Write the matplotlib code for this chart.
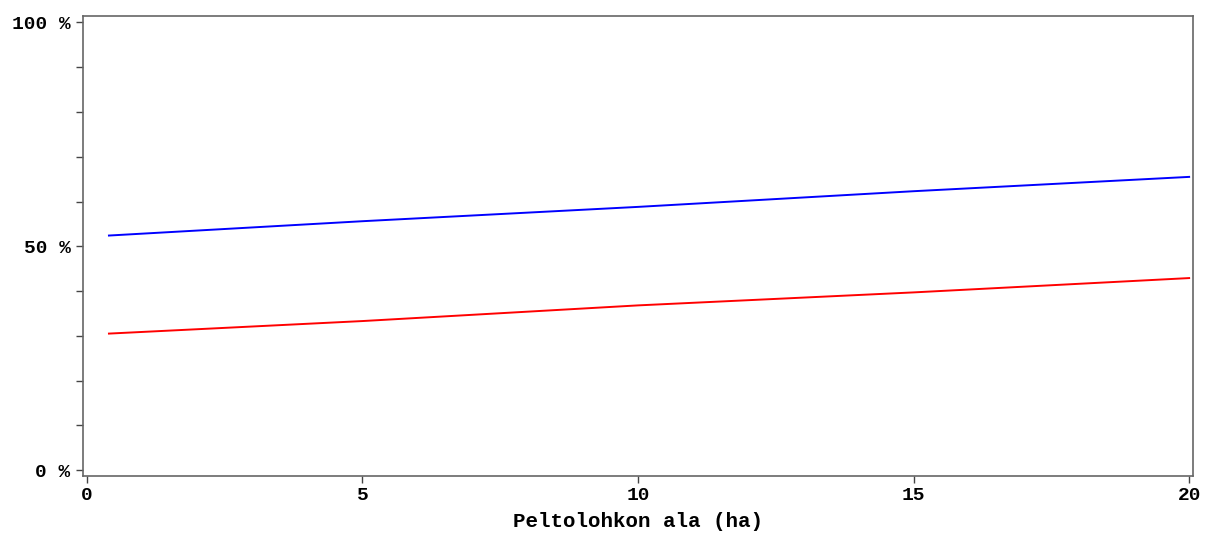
import matplotlib.pyplot as plt

# values
area_ha = [0.4, 5, 10, 15, 20]
share_blue = [52.4, 55.6, 58.8, 62.3, 65.5]
share_red = [30.5, 33.3, 36.8, 39.7, 42.9]

x_ticks = [0, 5, 10, 15, 20]
y_major = [0, 50, 100]
y_minor = [10, 20, 30, 40, 60, 70, 80, 90]

plt.rcParams["font.family"] = ["Liberation Mono", "DejaVu Sans Mono"]
plt.rcParams["font.weight"] = "bold"

fig = plt.figure(figsize=(12.07, 5.36), dpi=100)
ax = fig.add_axes([0.0688, 0.112, 0.9196, 0.8587])

ax.plot(area_ha, share_blue, color="#0000ff", linewidth=1.4)
ax.plot(area_ha, share_red, color="#ff0000", linewidth=1.4)

ax.set_xlim(-0.07, 20.07)
ax.set_ylim(-1.3, 101.5)

ax.set_xticks(x_ticks)
ax.set_xticklabels([str(v) for v in x_ticks], fontsize=14, fontweight="bold")
ax.set_yticks(y_major)
ax.set_yticklabels([f"{v} %" for v in y_major], fontsize=14, fontweight="bold")
ax.set_yticks(y_minor, minor=True)

ax.tick_params(axis="both", which="both", direction="out", color="#444444",
               width=1, length=5, pad=4)
ax.tick_params(axis="x", pad=3)

for side in ["left", "right", "top", "bottom"]:
    ax.spines[side].set_color("#666666")
    ax.spines[side].set_linewidth(1.2)

ax.set_xlabel("Peltolohkon ala (ha)", fontsize=15, fontweight="bold", labelpad=6)

fig.savefig("out.png", dpi=100)
plt.close(fig)
